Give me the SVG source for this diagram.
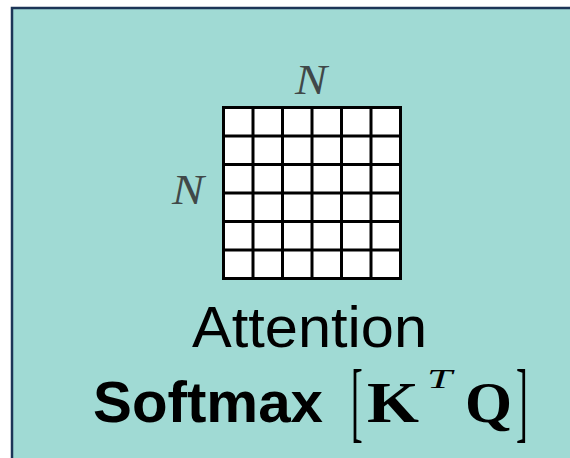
<svg xmlns="http://www.w3.org/2000/svg" width="570" height="458" viewBox="0 0 570 458">
<style>
.grid line{stroke:#000;stroke-width:3}
.dim{font-family:"Liberation Serif",serif;font-style:italic;font-size:42px;fill:#404848}
.sans{font-family:"Liberation Sans",Arial,sans-serif;fill:#000}
.math{font-family:"Liberation Serif",serif;fill:#000}
</style>
<g id="panel">
<rect x="12" y="8" width="580" height="470" fill="#a0dad4" stroke="#1c3557" stroke-width="2.5"/>
</g>
<g id="matrix">
<rect x="223.5" y="107.5" width="177" height="171" fill="#fff"/>
<g class="grid">
<line x1="223.5" y1="106" x2="223.5" y2="280"/>
<line x1="253" y1="107.5" x2="253" y2="278.5"/>
<line x1="282.5" y1="107.5" x2="282.5" y2="278.5"/>
<line x1="312" y1="107.5" x2="312" y2="278.5"/>
<line x1="341.5" y1="107.5" x2="341.5" y2="278.5"/>
<line x1="371" y1="107.5" x2="371" y2="278.5"/>
<line x1="400.5" y1="106" x2="400.5" y2="280"/>
<line x1="222" y1="107.5" x2="402" y2="107.5"/>
<line x1="223.5" y1="136" x2="400.5" y2="136"/>
<line x1="223.5" y1="164.5" x2="400.5" y2="164.5"/>
<line x1="223.5" y1="193" x2="400.5" y2="193"/>
<line x1="223.5" y1="221.5" x2="400.5" y2="221.5"/>
<line x1="223.5" y1="250" x2="400.5" y2="250"/>
<line x1="222" y1="278.5" x2="402" y2="278.5"/>
</g>
<text class="dim" x="295" y="94" textLength="32" lengthAdjust="spacingAndGlyphs">N</text>
<text class="dim" x="172" y="204" textLength="32" lengthAdjust="spacingAndGlyphs">N</text>
</g>
<g id="label">
<text class="sans" x="192" y="347" font-size="58" textLength="235" lengthAdjust="spacingAndGlyphs">Attention</text>
<text class="sans" x="93" y="422" font-size="57" font-weight="bold" textLength="230" lengthAdjust="spacingAndGlyphs">Softmax</text>
<text class="math" transform="translate(351,431) scale(0.4,1)" font-size="88">[</text>
<text class="math" x="367" y="422" font-size="56" font-weight="bold" textLength="52" lengthAdjust="spacingAndGlyphs">K</text>
<text class="math" x="427" y="388" font-size="28" font-style="italic" textLength="25" lengthAdjust="spacingAndGlyphs">T</text>
<text class="math" x="465" y="422" font-size="56" font-weight="bold" textLength="47" lengthAdjust="spacingAndGlyphs">Q</text>
<text class="math" transform="translate(516,431) scale(0.4,1)" font-size="88">]</text>
</g>
</svg>
